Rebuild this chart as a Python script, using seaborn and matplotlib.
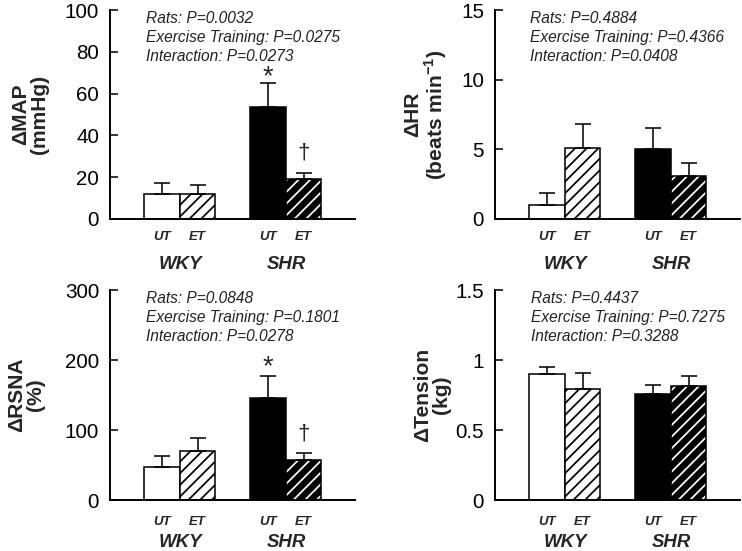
import numpy as np
import pandas as pd
import matplotlib
matplotlib.use('Agg')
import matplotlib.pyplot as plt
from matplotlib.patches import Rectangle
import seaborn as sns

# ---------------- data ----------------
rats = ['WKY', 'WKY', 'SHR', 'SHR']
training = ['UT', 'ET', 'UT', 'ET']
group_order = ['WKY', 'SHR']
training_order = ['UT', 'ET']

map_mean = [12.0, 12.0, 53.6, 19.0]
map_sem = [5.1, 4.3, 11.6, 3.2]
hr_mean = [1.0, 5.1, 5.0, 3.1]
hr_sem = [0.9, 1.75, 1.5, 0.95]
rsna_mean = [47, 70, 146, 57]
rsna_sem = [16, 18, 31, 10]
tension_mean = [0.90, 0.79, 0.755, 0.815]
tension_sem = [0.05, 0.12, 0.07, 0.07]

map_stats = ['Rats: P=0.0032', 'Exercise Training: P=0.0275', 'Interaction: P=0.0273']
hr_stats = ['Rats: P=0.4884', 'Exercise Training: P=0.4366', 'Interaction: P=0.0408']
rsna_stats = ['Rats: P=0.0848', 'Exercise Training: P=0.1801', 'Interaction: P=0.0278']
tension_stats = ['Rats: P=0.4437', 'Exercise Training: P=0.7275', 'Interaction: P=0.3288']

map_marks = ['', '', '*', '\u2020']
hr_marks = ['', '', '', '']
rsna_marks = ['', '', '*', '\u2020']
tension_marks = ['', '', '', '']

# ---------------- style ----------------
DPI = 140
sns.set_style('ticks')
plt.rcParams['font.family'] = ['Liberation Sans', 'DejaVu Sans']
plt.rcParams['mathtext.fontset'] = 'custom'
plt.rcParams['mathtext.bf'] = 'Liberation Sans:bold'
plt.rcParams['mathtext.rm'] = 'Liberation Sans'
plt.rcParams['hatch.linewidth'] = 0.9

fig = plt.figure(figsize=(742 / DPI, 551 / DPI), dpi=DPI)

W, H = 742.0, 551.0


def make_ax(left_px, top_px, bottom_px, width_px=245):
    return fig.add_axes([left_px / W, 1 - bottom_px / H, width_px / W, (bottom_px - top_px) / H])


def panel(ax, means, sems, ymax, yticks, yticklabels, ylabel, label_x, stats, marks,
          stat_x, xt_pad, grp_off, star_off):
    df = pd.DataFrame({'rat': rats, 'training': training, 'value': means})
    sns.barplot(data=df, x='rat', y='value', hue='training', order=group_order,
                hue_order=training_order, width=0.67, errorbar=None, legend=False,
                saturation=1, ax=ax)
    bars = sorted(ax.patches, key=lambda p: p.get_x())
    centers = [p.get_x() + p.get_width() / 2 for p in bars]
    for p, r, t in zip(bars, rats, training):
        face = 'white' if r == 'WKY' else 'black'
        p.set_facecolor(face)
        p.set_linewidth(0.8)
        p.set_zorder(2)
        if t == 'ET':
            p.set_hatch('////')
            if r == 'SHR':
                if hasattr(p, 'set_hatchcolor'):
                    p.set_edgecolor('black')
                    p.set_hatchcolor('white')
                else:
                    p.set_edgecolor('white')
                    p.set_linewidth(0)
                    ax.add_patch(Rectangle(p.get_xy(), p.get_width(), p.get_height(),
                                           fill=False, edgecolor='black', lw=0.8, zorder=2.1))
            else:
                p.set_edgecolor('black')
        else:
            p.set_edgecolor('black')

    ax.errorbar(centers, means, yerr=[np.zeros(len(sems)), sems], fmt='none',
                ecolor='black', elinewidth=0.8, capsize=4.0, capthick=0.8, zorder=3)

    for c, m, s, mk in zip(centers, means, sems, marks):
        if mk == '*':
            ax.annotate(mk, xy=(c, m + s), xytext=(0, star_off), textcoords='offset points',
                        ha='center', va='baseline', fontsize=14)
        elif mk:
            ax.annotate(mk, xy=(c, m + s), xytext=(0, 7.0), textcoords='offset points',
                        ha='center', va='baseline', fontsize=11.5)

    ax.set_ylim(0, ymax)
    ax.set_yticks(yticks)
    ax.set_yticklabels(yticklabels)
    ax.set_xlim(-0.66, 1.651)
    ax.set_xticks(centers)
    ax.set_xticklabels(training)
    ax.tick_params(axis='y', direction='in', length=4.1, width=0.8, pad=5.7,
                   labelsize=10.6, colors='black')
    ax.tick_params(axis='x', length=0, pad=xt_pad)
    for lbl in ax.get_xticklabels():
        lbl.set_fontsize(6.8)
        lbl.set_fontweight('bold')
        lbl.set_fontstyle('italic')
    ax.set_xlabel('')
    ax.set_ylabel(ylabel, fontsize=10.8, fontweight='bold', linespacing=1.0)
    ax.yaxis.set_label_coords(label_x, 0.5)
    sns.despine(ax=ax)
    for sp in ['left', 'bottom']:
        ax.spines[sp].set_linewidth(1.0)
        ax.spines[sp].set_color('black')

    for gi, g in enumerate(group_order):
        ax.annotate(g, xy=(gi, 0), xycoords=ax.get_xaxis_transform(),
                    xytext=(0, grp_off), textcoords='offset points', ha='center',
                    va='center', fontsize=9.6, fontweight='bold', fontstyle='italic')

    ax.text(stat_x, 0.995, '\n'.join(stats), transform=ax.transAxes, ha='left', va='top',
            fontsize=8.0, fontstyle='italic', linespacing=1.33, color='#222222')


ax1 = make_ax(110, 10, 219)
ax2 = make_ax(495, 10, 219)
ax3 = make_ax(110, 290, 500)
ax4 = make_ax(495, 290, 500)

panel(ax1, map_mean, map_sem, 100, [0, 20, 40, 60, 80, 100],
      ['0', '20', '40', '60', '80', '100'], '\u0394MAP\n(mmHg)', -0.249,
      map_stats, map_marks, 0.147, 6.3, -23.5, -0.6)
panel(ax2, hr_mean, hr_sem, 15, [0, 5, 10, 15], ['0', '5', '10', '15'],
      '\u0394HR\n(beats min$^{\\mathbf{-1}}$)', -0.188, hr_stats, hr_marks, 0.143, 6.3, -23.5, -0.6)
panel(ax3, rsna_mean, rsna_sem, 300, [0, 100, 200, 300], ['0', '100', '200', '300'],
      '\u0394RSNA\n(%)', -0.265, rsna_stats, rsna_marks, 0.147, 8.0, -21.8, 0.8)
panel(ax4, tension_mean, tension_sem, 1.5, [0, 0.5, 1.0, 1.5], ['0', '0.5', '1', '1.5'],
      '\u0394Tension\n(kg)', -0.18, tension_stats, tension_marks, 0.147, 8.0, -21.8, 0.8)

fig.savefig('out.png', dpi=DPI)
